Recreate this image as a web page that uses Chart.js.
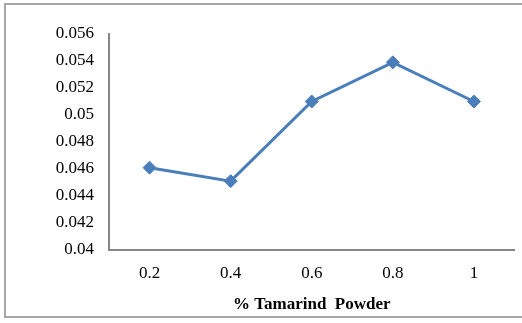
<!DOCTYPE html>
<html>
<head>
<meta charset="utf-8">
<script src="https://cdn.jsdelivr.net/npm/chart.js@4"></script>
<style>
  html, body { margin: 0; padding: 0; background: #fff; overflow: hidden; }
  #wrap { position: relative; width: 522px; height: 323px; }
  #frame {
    position: absolute; left: 4px; top: 3px; width: 600px; height: 315px;
    border: 2px solid #a6a6a6; box-sizing: border-box;
  }
  canvas { position: absolute; left: 0; top: 0; }
</style>
</head>
<body>
<div id="wrap">
  <div id="frame"></div>
  <canvas id="chart" width="522" height="323"></canvas>
</div>
<script>
// data
const categories = ['0.2', '0.4', '0.6', '0.8', '1'];
const values = [0.0461, 0.0451, 0.0510, 0.0539, 0.0510];
const yTicks = [0.04, 0.042, 0.044, 0.046, 0.048, 0.05, 0.052, 0.054, 0.056];

const blue = '#4a7ebb';
const axisGrey = '#868686';
const serif = "'Liberation Serif', 'Times New Roman', serif";

new Chart(document.getElementById('chart').getContext('2d'), {
  type: 'line',
  data: {
    labels: categories,
    datasets: [{
      data: values,
      borderColor: blue,
      borderWidth: 3,
      backgroundColor: blue,
      pointStyle: 'rectRot',
      pointRadius: 6.5,
      pointBorderWidth: 1,
      pointBackgroundColor: blue,
      pointBorderColor: blue,
      tension: 0
    }]
  },
  options: {
    responsive: false,
    animation: false,
    layout: { padding: { top: 34, right: 7.5, bottom: 0, left: 0 } },
    plugins: { legend: { display: false }, tooltip: { enabled: false } },
    scales: {
      x: {
        offset: true,
        grid: { display: false, drawTicks: false },
        border: { display: true, color: axisGrey, width: 2 },
        ticks: { color: '#000', font: { family: serif, size: 17 }, padding: 13, maxRotation: 0 },
        title: {
          display: true,
          text: '% Tamarind  Powder',
          color: '#000',
          font: { family: serif, size: 17, weight: 'bold' },
          padding: { top: 0, bottom: 8 }
        },
        afterFit: s => { s.height = 73; }
      },
      y: {
        min: yTicks[0],
        max: yTicks[yTicks.length - 1],
        grid: { display: false, drawTicks: false },
        border: { display: true, color: axisGrey, width: 2 },
        afterBuildTicks: s => { s.ticks = yTicks.map(v => ({ value: v })); },
        ticks: {
          color: '#000',
          font: { family: serif, size: 17 },
          padding: 15,
          callback: v => String(parseFloat(v.toFixed(3)))
        },
        afterFit: s => { s.width = 109; }
      }
    }
  }
});
</script>
</body>
</html>
